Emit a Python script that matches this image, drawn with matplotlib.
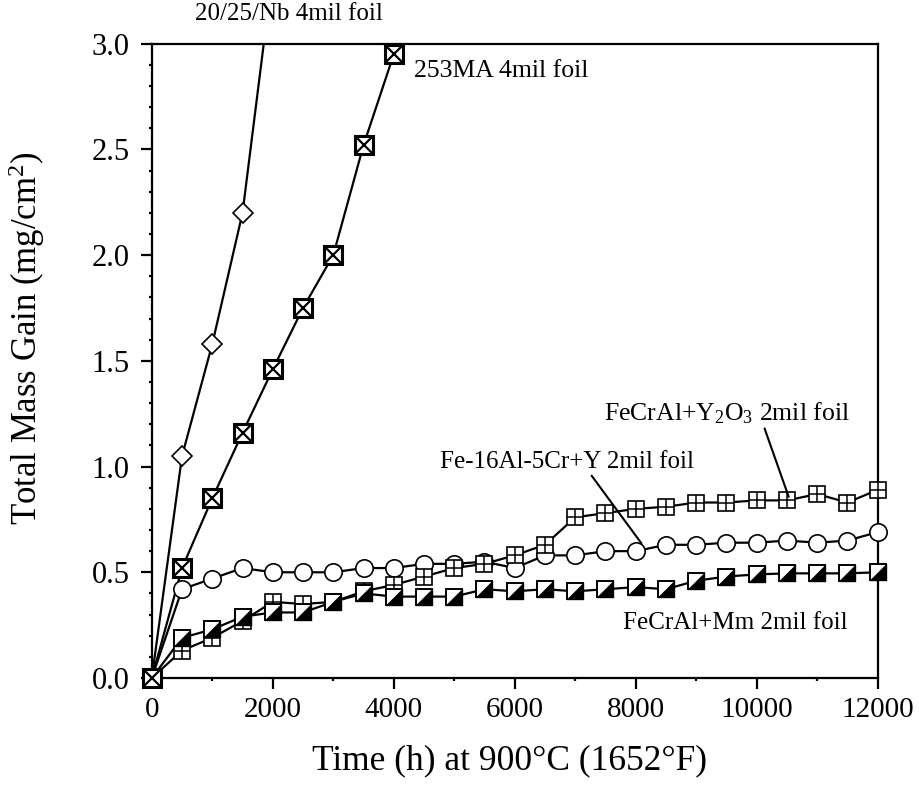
import numpy as np
import matplotlib
matplotlib.use("Agg")
import matplotlib.pyplot as plt
from matplotlib.ticker import MultipleLocator

plt.rcParams["font.family"] = ["Liberation Serif", "DejaVu Serif"]
plt.rcParams["mathtext.fontset"] = "custom"
plt.rcParams["mathtext.rm"] = "Liberation Serif"
plt.rcParams["mathtext.it"] = "Liberation Serif:italic"

# ── Data ──────────────────────────────────────────────────────────────────
hours = np.arange(0, 12001, 500)

nb_hours = [0, 500, 1000, 1500, 2000]
nb_gain = [0.0, 1.05, 1.58, 2.20, 3.34]

ma_hours = [0, 500, 1000, 1500, 2000, 2500, 3000, 3500, 4000]
ma_gain = [0.0, 0.52, 0.85, 1.16, 1.46, 1.75, 2.00, 2.52, 2.95]

fe16_gain = [0.0, 0.42, 0.47, 0.52, 0.50, 0.50, 0.50, 0.52, 0.52, 0.54, 0.54,
             0.55, 0.52, 0.58, 0.58, 0.60, 0.60, 0.63, 0.63, 0.64, 0.64,
             0.65, 0.64, 0.65, 0.69]

y2o3_gain = [0.0, 0.13, 0.19, 0.27, 0.36, 0.35, 0.36, 0.41, 0.44, 0.48, 0.52,
             0.54, 0.58, 0.63, 0.76, 0.78, 0.80, 0.81, 0.83, 0.83, 0.84,
             0.84, 0.87, 0.83, 0.89]

mm_gain = [0.0, 0.19, 0.23, 0.29, 0.31, 0.31, 0.36, 0.40, 0.385, 0.385, 0.385,
           0.42, 0.41, 0.42, 0.41, 0.42, 0.43, 0.42, 0.46, 0.48, 0.49,
           0.495, 0.495, 0.495, 0.50]

YMAX = 3.0

fig = plt.figure(figsize=(9.2, 7.85), dpi=100)
ax = fig.add_axes([0.165, 0.1363, 0.789, 0.808])

LW = 1.6


def series(x, y, **mk):
    x = np.asarray(x, float)
    y = np.asarray(y, float)
    ax.plot(x, y, color="black", lw=LW, zorder=2)
    keep = y <= YMAX
    ax.plot(x[keep], y[keep], ls="none", clip_on=False, zorder=3, **mk)
    return x[keep], y[keep]


# circles – Fe-16Al-5Cr+Y
series(hours, fe16_gain, marker="o", ms=12.5, mfc="white", mec="black", mew=1.2)

# squares with plus – FeCrAl+Y2O3
xs, ys = series(hours, y2o3_gain, marker="s", ms=12, mfc="white", mec="black", mew=1.2)
ax.plot(xs, ys, ls="none", marker="+", ms=12, mew=1.1, color="black",
        clip_on=False, zorder=3)

# half filled squares – FeCrAl+Mm
tri = [(-1, -1), (1, -1), (1, 1), (-1, -1)]
xs, ys = series(hours, mm_gain, marker="s", ms=12, mfc="white", mec="black", mew=1.4)
ax.plot(xs, ys, ls="none", marker=tri, ms=12, mfc="black", mec="black", mew=0.5,
        clip_on=False, zorder=3)

# diamonds – 20/25/Nb
series(nb_hours, nb_gain, marker="D", ms=10.5, mfc="white", mec="black", mew=1.2)

# boxed X – 253MA
xs, ys = series(ma_hours, ma_gain, marker="s", ms=12.5, mfc="white", mec="black", mew=2.2)
ax.plot(xs, ys, ls="none", marker="x", ms=11.5, mew=1.6, color="black",
        clip_on=False, zorder=3)

# ── Axes ───────────────────────────────────────────────────────────────────
ax.set_xlim(0, 12000)
ax.set_ylim(0, YMAX)
ax.xaxis.set_major_locator(MultipleLocator(2000))
ax.xaxis.set_minor_locator(MultipleLocator(1000))
ax.yaxis.set_major_locator(MultipleLocator(0.5))
ax.yaxis.set_minor_locator(MultipleLocator(0.1))
ax.yaxis.set_major_formatter(plt.FormatStrFormatter("%.1f"))
ax.tick_params(which="major", direction="out", length=8, width=1.6,
               labelsize=21, pad=6)
ax.tick_params(axis="y", which="major", labelsize=22, pad=8)
ax.tick_params(which="minor", direction="out", length=2.5, width=1.6)
ax.tick_params(top=False, right=False, which="both")
for sp in ax.spines.values():
    sp.set_linewidth(1.6)

ax.set_xlabel("Time (h) at 900°C (1652°F)", fontsize=25.5)
ax.xaxis.set_label_coords(0.493, -0.104)
ax.set_ylabel("Total Mass Gain (mg/cm$^2$)", fontsize=25)
ax.yaxis.set_label_coords(-0.145, 0.536)

# ── Labels ─────────────────────────────────────────────────────────────────
ax.text(2265, 3.14, "20/25/Nb 4mil foil", fontsize=18, ha="center", va="center",
        clip_on=False)
ax.text(4331, 2.87, "253MA 4mil foil", fontsize=18.5, ha="left", va="center")
ax.annotate("FeCrAl+Y$_2$O$_3$ 2mil foil", xy=(10529, 0.857), xytext=(9504, 1.254),
            fontsize=18.5, ha="center", va="center",
            arrowprops=dict(arrowstyle="-", color="black", lw=1.5,
                            shrinkA=0, shrinkB=0, relpos=(0.65, 0.0)))
ax.annotate("Fe-16Al-5Cr+Y 2mil foil", xy=(8094, 0.637), xytext=(4760, 1.022),
            fontsize=18, ha="left", va="center",
            arrowprops=dict(arrowstyle="-", color="black", lw=1.5,
                            shrinkA=0, shrinkB=0, relpos=(0.59, 0.0)))
ax.text(7785, 0.26, "FeCrAl+Mm 2mil foil", fontsize=18, ha="left", va="center")

fig.savefig("out.png", dpi=100)
